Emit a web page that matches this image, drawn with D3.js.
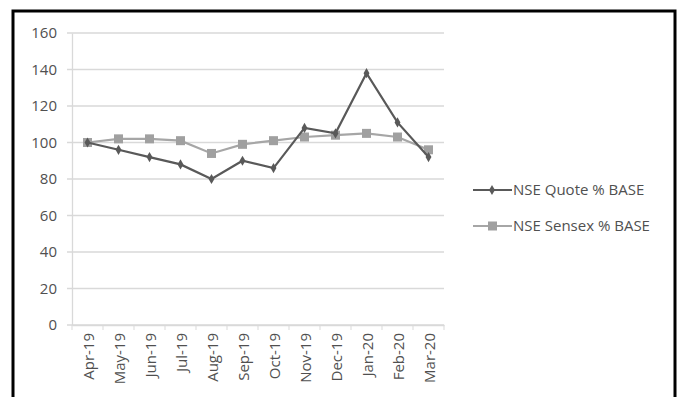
<!DOCTYPE html>
<html>
<head>
<meta charset="utf-8">
<script src="https://cdn.jsdelivr.net/npm/d3@7"></script>
<style>
  body { margin: 0; background: #fff; }
  text { font-family: "Open Sans", Lato, sans-serif; }
</style>
</head>
<body>
<script>
// chart values
var months = ['Apr-19','May-19','Jun-19','Jul-19','Aug-19','Sep-19','Oct-19','Nov-19','Dec-19','Jan-20','Feb-20','Mar-20'];
var quote = [100, 96, 92, 88, 80, 90, 86, 108, 105, 138, 111, 92];
var sensex = [100, 102, 102, 101, 94, 99, 101, 103, 104, 105, 103, 96];
var yTicks = [0, 20, 40, 60, 80, 100, 120, 140, 160];
var seriesNames = ['NSE Quote % BASE', 'NSE Sensex % BASE'];

var width = 679, height = 397;
var svg = d3.select('body').append('svg')
  .attr('width', width)
  .attr('height', height);

svg.append('rect')
  .attr('x', 13).attr('y', 11)
  .attr('width', 662).attr('height', 400)
  .attr('fill', '#fff')
  .attr('stroke', '#000')
  .attr('stroke-width', 3);

var x = d3.scaleBand().domain(months).range([72, 444]);
var y = d3.scaleLinear().domain([0, 160]).range([325, 33]);

// gridlines
svg.append('g')
  .selectAll('line')
  .data(yTicks)
  .enter().append('line')
  .attr('x1', 67).attr('x2', 444)
  .attr('y1', d => y(d)).attr('y2', d => y(d))
  .attr('stroke', '#d9d9d9')
  .attr('stroke-width', 1.3);

// y axis
var yAxis = svg.append('g')
  .attr('transform', 'translate(72,0)')
  .call(d3.axisLeft(y).tickValues(yTicks).tickSize(0).tickPadding(15));
yAxis.select('.domain').attr('stroke', '#d9d9d9').attr('stroke-width', 1.3);
yAxis.selectAll('text').attr('fill', '#505050').style('font-size', '15px');

// x axis
var xAxis = svg.append('g')
  .attr('transform', 'translate(0,325)')
  .call(d3.axisBottom(x).tickSize(5).tickSizeOuter(0));
xAxis.select('.domain').attr('stroke', '#d9d9d9').attr('stroke-width', 1.3);
xAxis.selectAll('.tick line')
  .attr('stroke', '#d9d9d9')
  .attr('transform', 'translate(' + (x.bandwidth() / 2) + ',0)');
xAxis.append('line')
  .attr('x1', 72).attr('x2', 72).attr('y1', 0).attr('y2', 5)
  .attr('stroke', '#d9d9d9');
xAxis.selectAll('.tick text')
  .attr('fill', '#505050')
  .style('font-size', '15px')
  .attr('text-anchor', 'end')
  .attr('transform', 'rotate(-90)')
  .attr('x', -8)
  .attr('y', 1)
  .attr('dy', '0.35em');

var cx = d => x(d) + x.bandwidth() / 2;
var line = d3.line().x((d, i) => cx(months[i])).y(d => y(d));

// sensex series
svg.append('path')
  .datum(sensex)
  .attr('d', line)
  .attr('fill', 'none')
  .attr('stroke', '#a6a6a6')
  .attr('stroke-width', 2.2);
svg.append('g').selectAll('rect')
  .data(sensex)
  .enter().append('rect')
  .attr('x', (d, i) => cx(months[i]) - 4.5)
  .attr('y', d => y(d) - 4.5)
  .attr('width', 9).attr('height', 9)
  .attr('fill', '#a0a0a0');

// quote series
svg.append('path')
  .datum(quote)
  .attr('d', line)
  .attr('fill', 'none')
  .attr('stroke', '#595959')
  .attr('stroke-width', 2.2);
svg.append('g').selectAll('path')
  .data(quote)
  .enter().append('path')
  .attr('d', d3.symbol().type(d3.symbolDiamond).size(30))
  .attr('transform', (d, i) => 'translate(' + cx(months[i]) + ',' + y(d) + ')')
  .attr('fill', '#595959');

// legend
var legend = svg.append('g');
var legendY = [190, 226];
var legendColor = ['#595959', '#a6a6a6'];
seriesNames.forEach(function(name, i) {
  var g = legend.append('g').attr('transform', 'translate(0,' + legendY[i] + ')');
  g.append('line')
    .attr('x1', 473).attr('x2', 512)
    .attr('stroke', legendColor[i]).attr('stroke-width', 2.2);
  if (i === 0) {
    g.append('path')
      .attr('d', d3.symbol().type(d3.symbolDiamond).size(30))
      .attr('transform', 'translate(492,0)')
      .attr('fill', '#595959');
  } else {
    g.append('rect')
      .attr('x', 488).attr('y', -4.5)
      .attr('width', 9).attr('height', 9)
      .attr('fill', '#a0a0a0');
  }
  g.append('text')
    .attr('x', 513).attr('dy', '0.35em')
    .attr('fill', '#505050')
    .style('font-size', '15px')
    .text(name);
});
</script>
</body>
</html>
